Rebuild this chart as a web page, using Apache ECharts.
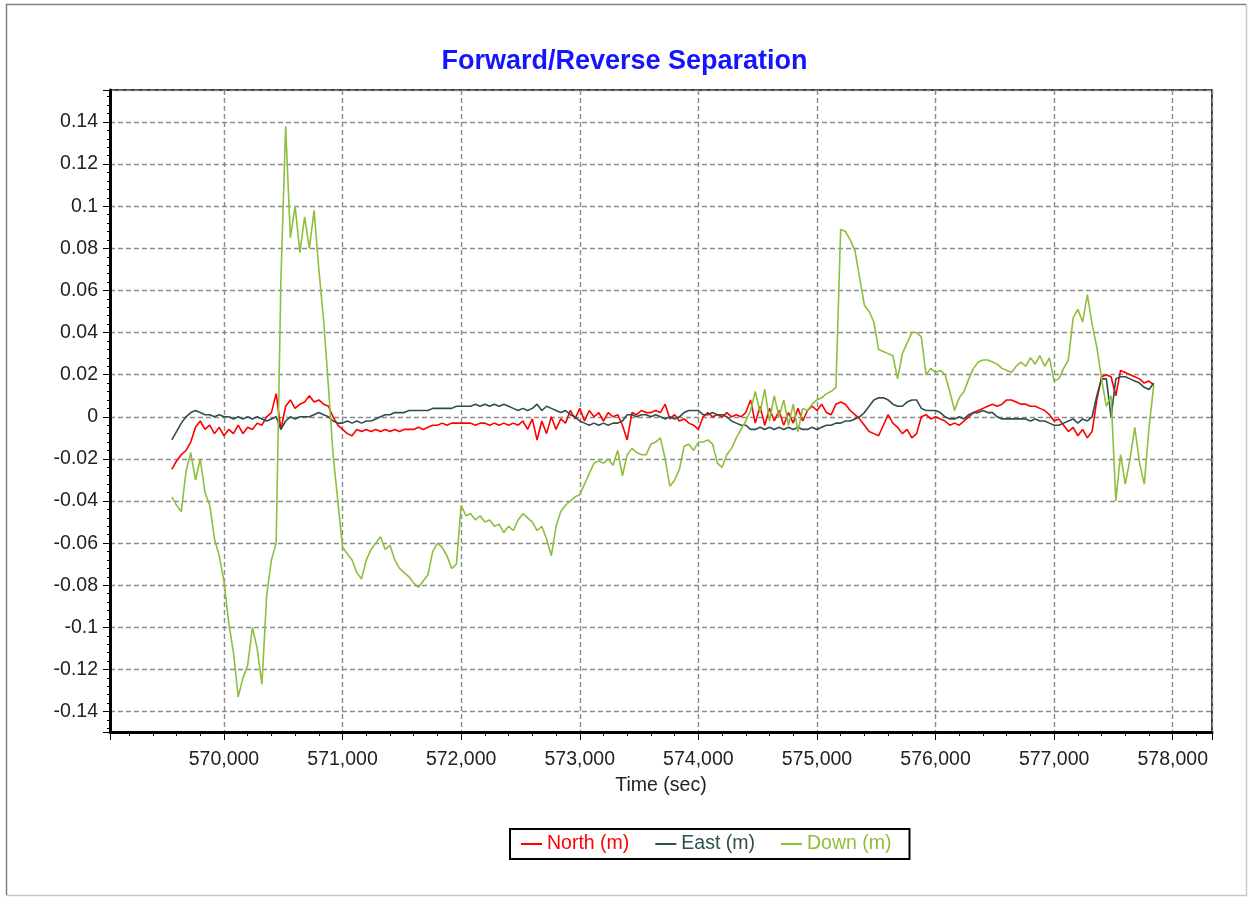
<!DOCTYPE html>
<html>
<head>
<meta charset="utf-8">
<title>Forward/Reverse Separation</title>
<script src="https://cdn.jsdelivr.net/npm/echarts@6/dist/echarts.min.js"></script>
<style>
  html, body { margin: 0; padding: 0; background: #fff; }
  #chart { width: 1249px; height: 897px; }
</style>
</head>
<body>
<div id="chart"></div>
<script>
// sample times: one reading every 40 s starting at 569,560 s
const tStart = 569560
const tStep = 40

// values in metres
const northValues = [
  -0.025,-0.021,-0.018,-0.016,-0.012,-0.005,-0.002,-0.006,-0.004,-0.008,
  -0.005,-0.009,-0.006,-0.008,-0.004,-0.008,-0.005,-0.006,-0.003,-0.004,
  0.000,0.002,0.011,-0.006,0.005,0.008,0.004,0.006,0.007,0.010,
  0.007,0.008,0.006,0.005,0.000,-0.004,-0.006,-0.008,-0.009,-0.006,
  -0.007,-0.006,-0.007,-0.006,-0.007,-0.006,-0.007,-0.006,-0.007,-0.006,
  -0.006,-0.006,-0.005,-0.006,-0.005,-0.004,-0.004,-0.003,-0.004,-0.003,
  -0.003,-0.003,-0.003,-0.003,-0.004,-0.003,-0.003,-0.004,-0.003,-0.004,
  -0.003,-0.004,-0.003,-0.004,-0.002,-0.006,-0.001,-0.011,-0.002,-0.008,
  0.000,-0.006,-0.001,-0.003,0.003,-0.001,0.004,-0.002,0.003,0.000,
  0.002,-0.002,0.002,0.000,0.001,-0.004,-0.011,0.002,0.001,0.003,
  0.002,0.002,0.003,0.002,0.006,-0.001,0.001,-0.002,-0.001,-0.003,
  -0.004,-0.006,0.000,0.002,0.000,0.001,0.000,0.002,0.000,0.001,
  0.000,0.002,0.008,-0.003,0.005,-0.004,0.004,-0.002,0.003,-0.004,
  0.002,-0.003,0.004,-0.002,0.003,0.005,0.003,0.006,0.002,0.001,
  0.006,0.007,0.006,0.003,0.001,-0.001,-0.004,-0.007,-0.008,-0.009,
  -0.004,0.001,-0.003,-0.005,-0.008,-0.006,-0.010,-0.008,0.000,0.001,
  -0.001,0.000,-0.001,-0.002,-0.004,-0.003,-0.004,-0.002,0.000,0.002,
  0.003,0.004,0.005,0.006,0.005,0.006,0.008,0.008,0.007,0.006,
  0.006,0.005,0.005,0.004,0.003,0.001,-0.002,-0.001,-0.004,-0.007,
  -0.005,-0.009,-0.006,-0.010,-0.007,0.008,0.019,0.020,0.019,0.010,
  0.022,0.021,0.020,0.019,0.018,0.016,0.017,0.015
]

const eastValues = [
  -0.011,-0.007,-0.003,0.000,0.002,0.003,0.002,0.001,0.001,0.000,
  0.001,0.000,0.000,-0.001,0.000,-0.001,0.000,-0.001,0.000,-0.001,
  -0.002,-0.001,0.000,-0.006,-0.002,0.000,-0.001,0.000,0.000,0.000,
  0.001,0.002,0.001,0.000,-0.002,-0.003,-0.003,-0.002,-0.003,-0.002,
  -0.003,-0.002,-0.002,-0.001,0.000,0.001,0.001,0.002,0.002,0.002,
  0.003,0.003,0.003,0.003,0.003,0.004,0.004,0.004,0.004,0.004,
  0.005,0.005,0.005,0.005,0.006,0.005,0.006,0.005,0.006,0.005,
  0.006,0.005,0.004,0.003,0.004,0.003,0.004,0.006,0.003,0.005,
  0.004,0.003,0.002,0.003,0.001,0.000,-0.002,-0.003,-0.004,-0.003,
  -0.004,-0.003,-0.004,-0.003,-0.003,-0.002,0.001,0.001,0.000,0.001,
  0.001,0.000,0.001,0.000,-0.001,0.000,-0.001,0.000,0.002,0.003,
  0.003,0.003,0.001,0.001,0.002,0.001,0.001,0.000,-0.002,-0.003,
  -0.004,-0.004,-0.006,-0.006,-0.005,-0.006,-0.005,-0.006,-0.005,-0.006,
  -0.005,-0.006,-0.005,-0.006,-0.006,-0.005,-0.006,-0.005,-0.004,-0.004,
  -0.003,-0.003,-0.002,-0.002,-0.001,0.000,0.002,0.005,0.008,0.009,
  0.009,0.008,0.006,0.005,0.005,0.007,0.008,0.008,0.004,0.003,
  0.003,0.003,0.002,0.000,-0.001,-0.001,0.000,-0.001,0.001,0.002,
  0.002,0.003,0.002,0.002,0.000,-0.001,-0.001,-0.001,-0.001,-0.001,
  -0.001,-0.002,-0.001,-0.002,-0.002,-0.003,-0.004,-0.004,-0.003,-0.002,
  -0.001,-0.003,-0.001,-0.002,0.000,0.010,0.018,0.018,0.000,0.018,
  0.019,0.019,0.018,0.017,0.016,0.014,0.013,0.016
]

const downValues = [
  -0.038,-0.042,-0.045,-0.026,-0.017,-0.030,-0.020,-0.036,-0.042,-0.058,
  -0.066,-0.078,-0.098,-0.112,-0.133,-0.124,-0.118,-0.100,-0.110,-0.127,
  -0.085,-0.068,-0.060,0.065,0.138,0.085,0.100,0.078,0.095,0.080,
  0.098,0.070,0.046,0.015,-0.018,-0.040,-0.062,-0.065,-0.068,-0.074,
  -0.077,-0.068,-0.063,-0.060,-0.057,-0.063,-0.061,-0.068,-0.072,-0.074,
  -0.076,-0.079,-0.081,-0.078,-0.075,-0.064,-0.060,-0.062,-0.066,-0.072,
  -0.070,-0.042,-0.047,-0.046,-0.049,-0.047,-0.050,-0.049,-0.052,-0.051,
  -0.055,-0.052,-0.054,-0.049,-0.046,-0.048,-0.050,-0.054,-0.052,-0.058,
  -0.066,-0.052,-0.045,-0.042,-0.040,-0.038,-0.037,-0.032,-0.027,-0.022,
  -0.021,-0.022,-0.020,-0.023,-0.016,-0.028,-0.018,-0.015,-0.017,-0.018,
  -0.018,-0.013,-0.012,-0.010,-0.020,-0.033,-0.030,-0.025,-0.014,-0.013,
  -0.016,-0.012,-0.012,-0.011,-0.013,-0.022,-0.024,-0.018,-0.015,-0.010,
  -0.006,-0.002,0.003,0.012,0.002,0.013,-0.002,0.010,0.000,0.008,
  -0.004,0.006,-0.007,0.004,0.003,0.006,0.008,0.009,0.011,0.012,
  0.014,0.089,0.088,0.084,0.079,0.066,0.053,0.050,0.045,0.032,
  0.031,0.030,0.029,0.018,0.030,0.035,0.040,0.040,0.038,0.020,
  0.023,0.021,0.022,0.020,0.012,0.003,0.009,0.012,0.018,0.023,
  0.026,0.027,0.027,0.026,0.025,0.023,0.022,0.021,0.024,0.026,
  0.024,0.028,0.025,0.029,0.024,0.028,0.017,0.018,0.023,0.027,
  0.047,0.051,0.045,0.058,0.044,0.033,0.018,0.005,0.010,-0.040,
  -0.018,-0.032,-0.020,-0.005,-0.022,-0.032,-0.005,0.015
]

const seriesNames = ['North (m)', 'East (m)', 'Down (m)']
const seriesColors = ['#ff0000', '#2f4f4f', '#8dbf3c']

const xMin = 569039, xMax = 578331
const yMin = -0.1497, yMax = 0.1552

const font = "Arial, 'Liberation Sans', sans-serif"
const textColor = '#222'

function pairs(values) {
  return values.map((v, i) => [tStart + i * tStep, v])
}

const gridDash = { color: '#8c8c8c', width: 1.4, type: [5, 3] }

var chart = echarts.init(document.getElementById('chart'), null, { renderer: 'canvas' })

chart.setOption({
  animation: false,
  backgroundColor: '#fff',
  title: {
    text: 'Forward/Reverse Separation',
    left: 'center',
    top: 48,
    padding: 0,
    textStyle: { color: '#1414ff', fontSize: 27, fontWeight: 'bold', fontFamily: font }
  },
  graphic: [
    // outer bevelled frame
    { type: 'polyline', shape: { points: [[6.5, 895], [6.5, 4.5], [1246.5, 4.5]] }, style: { stroke: '#808080', lineWidth: 1.5, fill: null } },
    { type: 'polyline', shape: { points: [[6.5, 895.5], [1246.5, 895.5], [1246.5, 4.5]] }, style: { stroke: '#c8c8c8', lineWidth: 1.5, fill: null } }
  ],
  grid: {
    left: 110, top: 90, right: 37, bottom: 165,
    show: true, borderColor: '#000', borderWidth: 1.5, backgroundColor: 'transparent'
  },
  legend: {
    left: 510, top: 829,
    icon: 'rect', itemWidth: 21, itemHeight: 2, itemGap: 26,
    borderColor: '#000', borderWidth: 2,
    padding: [5, 18, 5, 11],
    textStyle: { fontSize: 19.5, fontFamily: font },
    data: seriesNames.map((n, i) => ({ name: n, textStyle: { color: seriesColors[i] } }))
  },
  xAxis: {
    type: 'value',
    min: xMin, max: xMax, splitNumber: 9,
    name: 'Time (sec)', nameLocation: 'middle', nameGap: 44,
    nameTextStyle: { fontSize: 19.5, color: textColor, fontFamily: font },
    axisLine: { show: true, onZero: false, lineStyle: { color: '#000', width: 3 } },
    axisTick: { show: true, length: 8, lineStyle: { color: '#000', width: 1 } },
    minorTick: { show: true, splitNumber: 5, length: 4, lineStyle: { color: '#000', width: 1 } },
    axisLabel: {
      fontSize: 19.5, color: textColor, fontFamily: font, margin: 18,
      showMinLabel: false, showMaxLabel: false,
      formatter: v => (v % 1000 === 0 ? v.toLocaleString('en-US') : '')
    },
    splitLine: { show: true, lineStyle: gridDash }
  },
  yAxis: {
    type: 'value',
    min: yMin, max: yMax, splitNumber: 15,
    axisLine: { show: true, onZero: false, lineStyle: { color: '#000', width: 3 } },
    axisTick: { show: true, length: 7, lineStyle: { color: '#000', width: 1 } },
    minorTick: { show: true, splitNumber: 5, length: 3, lineStyle: { color: '#000', width: 1 } },
    axisLabel: {
      fontSize: 19.5, color: textColor, fontFamily: font, margin: 12,
      showMinLabel: false, showMaxLabel: false,
      formatter: v => {
        const r = Math.round(v / 0.02) * 0.02
        if (Math.abs(r - v) > 1e-6) return ''
        return String(+r.toFixed(2))
      }
    },
    splitLine: { show: true, lineStyle: gridDash }
  },
  series: [northValues, eastValues, downValues].map((vals, i) => ({
    name: seriesNames[i],
    type: 'line',
    data: pairs(vals),
    showSymbol: false,
    symbol: 'none',
    color: seriesColors[i],
    lineStyle: { color: seriesColors[i], width: 1.6 },
    z: 3 + i
  }))
})
</script>
</body>
</html>
